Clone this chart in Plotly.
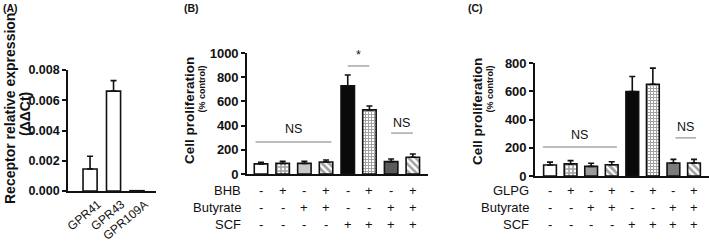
import plotly.graph_objects as go

# ---------------- data ----------------
a_cats = ["GPR41", "GPR43", "GPR109A"]
a_mean = [0.00145, 0.0066, 0.00002]
a_err = [0.00085, 0.0007, 0.0]
a_ticks = [0.000, 0.002, 0.004, 0.006, 0.008]

b_mean = [84, 88, 88, 99, 728, 530, 102, 138]
b_err = [12, 17, 17, 17, 90, 32, 22, 27]
b_ticks = [0, 200, 400, 600, 800, 1000]
b_row1_name = "BHB"

c_mean = [78, 86, 68, 80, 598, 650, 92, 92]
c_err = [20, 23, 22, 21, 106, 114, 26, 26]
c_ticks = [0, 200, 400, 600, 800]
c_row1_name = "GLPG"

row1_signs = ["-", "+", "-", "+", "-", "+", "-", "+"]
butyrate_signs = ["-", "-", "+", "+", "-", "-", "+", "+"]
scf_signs = ["-", "-", "-", "-", "+", "+", "+", "+"]

# significance marks: (x0, x1, y_line, label, y_label)
b_sig = [(-0.25, 3.25, 264, "NS", 372), (4.0, 5.0, 893, "*", 985), (6.0, 7.0, 338, "NS", 425)]
c_sig = [(-0.35, 3.25, 205, "NS", 290), (4.0, 5.0, 810, "NS", 885), (6.1, 7.1, 270, "NS", 345)]

FONT = "Liberation Sans, Arial, sans-serif"
INK = "#111111"
W, H = 709, 241


def px(v):
    return v / W


def py(v):
    return 1 - v / H


fig = go.Figure()

# ---- Panel A ----
fig.add_trace(go.Bar(
    x=list(range(len(a_cats))), y=a_mean, width=0.6,
    marker=dict(color="white", line=dict(color=INK, width=1.6)),
    error_y=dict(type="data", symmetric=False, array=a_err, arrayminus=[0] * 3,
                 color=INK, thickness=1.6, width=3),
    xaxis="x", yaxis="y", showlegend=False))


# ---- Panels B and C ----
def pattern_bars(means, errs, xa, ya, c3, c7):
    colors = ["white", "white", c3, "white", "#0a0a0a", "white", c7, "white"]
    shapes = ["", "+", "", "\\", "", "+", "", "\\"]
    fg = ["#000", "#111", "#000", "#111", "#000", "#8a8a8a", "#000", "#777777"]
    bg = ["white", "white", c3, "white", "#0a0a0a", "white", c7, "white"]
    sizes = [6, 4, 6, 5, 6, 3, 6, 5]
    sol = [0.3, 0.65, 0.3, 0.55, 0.3, 0.55, 0.3, 0.5]
    fig.add_trace(go.Bar(
        x=list(range(8)), y=means, width=0.62,
        marker=dict(color=colors, line=dict(color=INK, width=1.6),
                    pattern=dict(shape=shapes, fgcolor=fg, bgcolor=bg,
                                 size=sizes, solidity=sol, fillmode="overlay")),
        error_y=dict(type="data", symmetric=False, array=errs, arrayminus=[0] * 8,
                     color=INK, thickness=1.6, width=3),
        xaxis=xa, yaxis=ya, showlegend=False))


pattern_bars(b_mean, b_err, "x2", "y2", "#c9c9c9", "#5a5a5a")
pattern_bars(c_mean, c_err, "x3", "y3", "#9a9a9a", "#7c7c7c")

yax = dict(showline=True, linecolor=INK, linewidth=1.6, showgrid=False,
           zeroline=False, ticks="outside", tickcolor=INK, tickwidth=1.6,
           ticklen=4, automargin=False)
xax = dict(showline=True, linecolor=INK, linewidth=1.6, showgrid=False,
           zeroline=False, ticks="", automargin=False)

fig.update_layout(
    template="none",
    width=W, height=H, margin=dict(l=0, r=0, t=0, b=0, autoexpand=False),
    paper_bgcolor="white", plot_bgcolor="white",
    font=dict(family=FONT, color=INK, size=12),
    xaxis=dict(domain=[px(68), px(156)], range=[-0.94, 2.81], anchor="y",
               tickvals=list(range(3)), ticktext=a_cats, tickangle=-40,
               tickfont=dict(size=12), ticklabelshift=8, **xax),
    yaxis=dict(domain=[py(191), py(70)], range=[0, 0.008], anchor="x",
               tickvals=a_ticks, ticktext=["<b>%.3f</b>" % t for t in a_ticks],
               tickfont=dict(size=12.5), **yax),
    xaxis2=dict(domain=[px(247), px(428)], range=[-0.645, 7.70], anchor="y2",
                showticklabels=False, **xax),
    yaxis2=dict(domain=[py(174), py(53)], range=[0, 1000], anchor="x2",
                tickvals=b_ticks, ticktext=["<b>%d</b>" % t for t in b_ticks],
                tickfont=dict(size=13), **yax),
    xaxis3=dict(domain=[px(535), 1.0], range=[-0.73, 7.73], anchor="y3",
                showticklabels=False, **xax),
    yaxis3=dict(domain=[py(176), py(63)], range=[0, 800], anchor="x3",
                tickvals=c_ticks, ticktext=["<b>%d</b>" % t for t in c_ticks],
                tickfont=dict(size=13), **yax),
)

ann = []
shapes = []
tf = dict(color=INK, family=FONT)
C = dict(xanchor="center", yanchor="middle", showarrow=False, xref="paper", yref="paper")

# panel labels
for lbl, x in [("(A)", 1), ("(B)", 182), ("(C)", 466)]:
    ann.append(dict(text="<b>%s</b>" % lbl, x=px(x), y=py(8), xref="paper", yref="paper",
                    xanchor="left", yanchor="middle", showarrow=False,
                    font=dict(size=10.5, **tf)))

# y titles
ann.append(dict(text="<b>Receptor relative expression</b>", x=px(10), y=py(109),
                textangle=-90, font=dict(size=14, **tf), **C))
ann.append(dict(text="<b>(ΔΔCt)</b>", x=px(25), y=py(114),
                textangle=-90, font=dict(size=14, **tf), **C))
for xt, xs in [(190, 201.5), (478, 489.5)]:
    ann.append(dict(text="<b>Cell proliferation</b>", x=px(xt), y=py(111),
                    textangle=-90, font=dict(size=13.5, **tf), **C))
    ann.append(dict(text="<b>(% control)</b>", x=px(xs), y=py(89),
                    textangle=-90, font=dict(size=9, **tf), **C))

# sign rows
row_y = [190, 207, 224]
for xa, lab_x, name1 in [("x2", 243, b_row1_name), ("x3", 531, c_row1_name)]:
    names = [name1, "Butyrate", "SCF"]
    rows = [row1_signs, butyrate_signs, scf_signs]
    for ry, nm, signs in zip(row_y, names, rows):
        ann.append(dict(text=nm, x=px(lab_x), y=py(ry), xref="paper", yref="paper",
                        xanchor="right", yanchor="middle", showarrow=False,
                        font=dict(size=13, **tf)))
        for i, s in enumerate(signs):
            ann.append(dict(text=s, x=i, y=py(ry), xref=xa, yref="paper",
                            xanchor="center", yanchor="middle", showarrow=False,
                            font=dict(size=13, **tf)))

# significance marks
for xa, ya, sig in [("x2", "y2", b_sig), ("x3", "y3", c_sig)]:
    for x0, x1, yl, lbl, ylab in sig:
        shapes.append(dict(type="line", xref=xa, yref=ya, x0=x0, x1=x1, y0=yl, y1=yl,
                           line=dict(color="#a8a8a8", width=1.5)))
        ann.append(dict(text=lbl, x=(x0 + x1) / 2, y=ylab, xref=xa, yref=ya,
                        xanchor="center", yanchor="middle", showarrow=False,
                        font=dict(size=12.5, **tf)))

fig.update_layout(annotations=ann, shapes=shapes)
fig.write_html("out.html", config={"displayModeBar": False},
               post_script="document.body.style.margin='0';document.body.style.overflow='hidden';")
